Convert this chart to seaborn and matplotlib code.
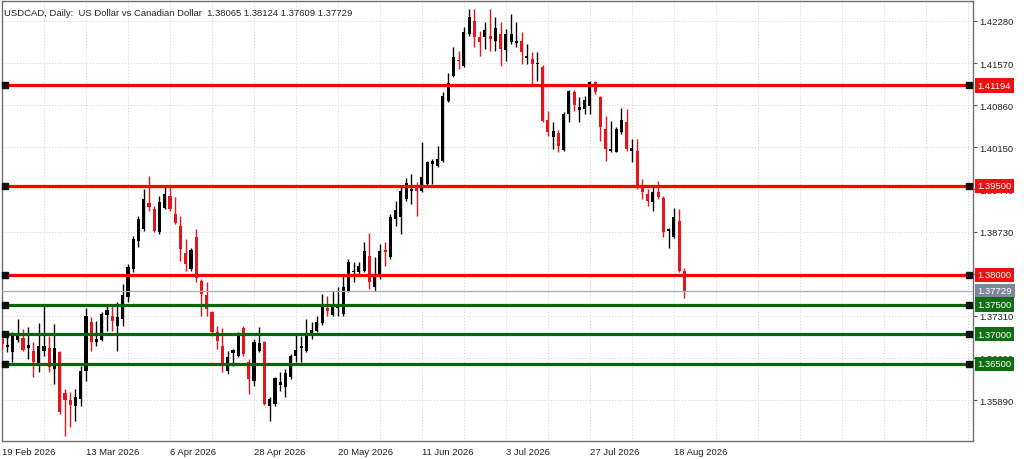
import numpy as np
import pandas as pd
import matplotlib
matplotlib.use('Agg')
import matplotlib.pyplot as plt
from matplotlib.ticker import MultipleLocator, FixedLocator
import seaborn as sns

# daily USDCAD candles
opens = [1.3692, 1.3679, 1.3670, 1.3690, 1.3694, 1.3677, 1.3672, 1.3646, 1.3672, 1.3677,
         1.3641, 1.3670, 1.3601, 1.3589, 1.3579, 1.3591, 1.3638, 1.3720, 1.3687, 1.3690,
         1.3732, 1.3731, 1.3714, 1.3725, 1.3763, 1.3810, 1.3857, 1.3877, 1.3921, 1.3911,
         1.3872, 1.3913, 1.3933, 1.3902, 1.3882, 1.3837, 1.3810, 1.3864, 1.3790, 1.3766,
         1.3737, 1.3704, 1.3680, 1.3638, 1.3668, 1.3663, 1.3710, 1.3653, 1.3621, 1.3672,
         1.3687, 1.3579, 1.3582, 1.3614, 1.3611, 1.3628, 1.3663, 1.3677, 1.3672, 1.3697,
         1.3705, 1.3719, 1.3744, 1.3732, 1.3744, 1.3734, 1.3773, 1.3805, 1.3805, 1.3806,
         1.3832, 1.3779, 1.3796, 1.3842, 1.3830, 1.3894, 1.3897, 1.3928, 1.3941, 1.3946,
         1.3941, 1.3953, 1.3987, 1.3983, 1.3992, 1.4093, 1.4135, 1.4162, 1.4152, 1.4206,
         1.4228, 1.4201, 1.4201, 1.4203, 1.4194, 1.4206, 1.4179, 1.4193, 1.4191, 1.4194,
         1.4166, 1.4164, 1.4156, 1.4150, 1.4061, 1.4032, 1.4039, 1.4010, 1.4071, 1.4108,
         1.4078, 1.4080, 1.4085, 1.4125, 1.4100, 1.4046, 1.4009, 1.4007, 1.4041, 1.4058,
         1.4009, 1.4009, 1.3948, 1.3936, 1.3923, 1.3940, 1.3930, 1.3874, 1.3864, 1.3891,
         1.38065]
highs = [1.3700, 1.3695, 1.3704, 1.3725, 1.3709, 1.3712, 1.3687, 1.3719, 1.3751, 1.3697,
         1.3717, 1.3672, 1.3607, 1.3602, 1.3607, 1.3646, 1.3744, 1.3729, 1.3722, 1.3737,
         1.3751, 1.3751, 1.3754, 1.3785, 1.3818, 1.3865, 1.3899, 1.3945, 1.3967, 1.3916,
         1.3933, 1.3948, 1.3950, 1.3931, 1.3899, 1.3860, 1.3845, 1.3877, 1.3793, 1.3788,
         1.3739, 1.3714, 1.3710, 1.3672, 1.3675, 1.3704, 1.3714, 1.3658, 1.3692, 1.3712,
         1.3688, 1.3594, 1.3628, 1.3636, 1.3641, 1.3666, 1.3700, 1.3697, 1.3725, 1.3720,
         1.3731, 1.3768, 1.3764, 1.3773, 1.3779, 1.3798, 1.3827, 1.3822, 1.3822, 1.3855,
         1.3870, 1.3830, 1.3852, 1.3855, 1.3902, 1.3924, 1.3948, 1.3963, 1.3970, 1.3956,
         1.4024, 1.3992, 1.3995, 1.4017, 1.4108, 1.4140, 1.4184, 1.4177, 1.4218, 1.4248,
         1.4248, 1.4211, 1.4226, 1.4248, 1.4235, 1.4226, 1.4214, 1.4240, 1.4226, 1.4209,
         1.4189, 1.4176, 1.4176, 1.4154, 1.4076, 1.4058, 1.4044, 1.4074, 1.4112, 1.4112,
         1.4100, 1.4101, 1.4127, 1.4127, 1.4101, 1.4068, 1.4059, 1.4049, 1.4081, 1.4080,
         1.4029, 1.4029, 1.3962, 1.3945, 1.3948, 1.3958, 1.3933, 1.3879, 1.3913, 1.3911,
         1.38124]
lows = [1.3675, 1.3670, 1.3653, 1.3687, 1.3672, 1.3658, 1.3628, 1.3636, 1.3663, 1.3636,
        1.3616, 1.3565, 1.3528, 1.3543, 1.3554, 1.3579, 1.3621, 1.3672, 1.3680, 1.3688,
        1.3705, 1.3705, 1.3672, 1.3714, 1.3754, 1.3805, 1.3847, 1.3874, 1.3908, 1.3872,
        1.3869, 1.3911, 1.3908, 1.3886, 1.3823, 1.3806, 1.3806, 1.3788, 1.3731, 1.3731,
        1.3697, 1.3675, 1.3636, 1.3633, 1.3646, 1.3661, 1.3663, 1.3599, 1.3612, 1.3670,
        1.3580, 1.3554, 1.3579, 1.3604, 1.3594, 1.3624, 1.3653, 1.3653, 1.3670, 1.3692,
        1.3704, 1.3715, 1.3731, 1.3731, 1.3731, 1.3731, 1.3771, 1.3788, 1.3798, 1.3805,
        1.3776, 1.3773, 1.3793, 1.3815, 1.3827, 1.3882, 1.3869, 1.3924, 1.3919, 1.3899,
        1.3940, 1.3950, 1.3953, 1.3982, 1.3990, 1.4091, 1.4134, 1.4147, 1.4150, 1.4203,
        1.4184, 1.4169, 1.4181, 1.4177, 1.4177, 1.4152, 1.4160, 1.4189, 1.4184, 1.4155,
        1.4155, 1.4122, 1.4127, 1.4058, 1.4034, 1.4012, 1.4007, 1.4009, 1.4058, 1.4076,
        1.4058, 1.4071, 1.4071, 1.4105, 1.4026, 1.3992, 1.4007, 1.4007, 1.4037, 1.4009,
        1.3990, 1.3945, 1.3928, 1.3916, 1.3908, 1.3928, 1.3864, 1.3845, 1.3862, 1.3805,
        1.37609]
closes = [1.3683, 1.3681, 1.3697, 1.3700, 1.3673, 1.3682, 1.3653, 1.3680, 1.3680, 1.3645,
          1.3677, 1.3569, 1.3589, 1.3580, 1.3594, 1.3638, 1.3731, 1.3687, 1.3692, 1.3734,
          1.3741, 1.3722, 1.3729, 1.3766, 1.3813, 1.3860, 1.3894, 1.3928, 1.3914, 1.3874,
          1.3923, 1.3936, 1.3911, 1.3887, 1.3844, 1.3818, 1.3842, 1.3795, 1.3768, 1.3742,
          1.3704, 1.3688, 1.3646, 1.3661, 1.3673, 1.3699, 1.3666, 1.3624, 1.3687, 1.3685,
          1.3582, 1.3591, 1.3626, 1.3619, 1.3634, 1.3663, 1.3673, 1.3680, 1.3697, 1.3707,
          1.3720, 1.3749, 1.3739, 1.3746, 1.3746, 1.3779, 1.3822, 1.3806, 1.3815, 1.3840,
          1.3788, 1.3796, 1.3840, 1.3838, 1.3897, 1.3909, 1.3941, 1.3955, 1.3945, 1.3941,
          1.3965, 1.3990, 1.3992, 1.3995, 1.4101, 1.4123, 1.4167, 1.4160, 1.4209, 1.4235,
          1.4201, 1.4193, 1.4213, 1.4198, 1.4216, 1.4181, 1.4206, 1.4206, 1.4194, 1.4176,
          1.4169, 1.4155, 1.4157, 1.4059, 1.4041, 1.4042, 1.4017, 1.4071, 1.4110, 1.4086,
          1.4083, 1.4095, 1.4125, 1.4108, 1.4049, 1.4012, 1.4012, 1.4046, 1.4061, 1.4012,
          1.4014, 1.3948, 1.3940, 1.3924, 1.3940, 1.3931, 1.3872, 1.3877, 1.3897, 1.3806,
          1.37729]

resistance_levels = [1.41194, 1.39500, 1.38000]
support_levels = [1.37500, 1.37000, 1.36500]
last_price = 1.37729
price_ticks = [1.42280, 1.41570, 1.40860, 1.40150, 1.39440, 1.38730,
               1.38020, 1.37310, 1.36600, 1.35890]
title = "USDCAD, Daily:  US Dollar vs Canadian Dollar  1.38065 1.38124 1.37609 1.37729"

dates = pd.bdate_range('2026-02-19', periods=len(opens))
df = pd.DataFrame({'date': dates, 'open': opens, 'high': highs,
                   'low': lows, 'close': closes})
df['i'] = np.arange(len(df))
df['up'] = df['close'] >= df['open']

sns.set_style('white')
plt.rcParams['font.family'] = ['Liberation Sans', 'DejaVu Sans']

RED = '#ff0000'
GREEN = '#0a640a'
FRAME = '#707070'

fig = plt.figure(figsize=(10.24, 4.6), dpi=100)
ax = fig.add_axes([2 / 1024, 18 / 460, 971 / 1024, 440 / 460])

# candles
cols = np.where(df['up'], '#000000', '#e8141c')
ax.vlines(df['i'], df['low'], df['high'], colors=cols, linewidth=1, zorder=3)
body_lo = np.minimum(df['open'], df['close'])
body_h = np.maximum(np.abs(df['close'] - df['open']), 0.00005)
ax.bar(df['i'], body_h, bottom=body_lo, width=0.6, color=cols,
       linewidth=0, zorder=4)

# level lines
ax.axhline(last_price, color='#a9abb5', lw=0.9, zorder=5)
for lv in resistance_levels:
    ax.axhline(lv, color=RED, lw=2.3, zorder=6)
for lv in support_levels:
    ax.axhline(lv, color=GREEN, lw=2.3, zorder=6)
ytr = ax.get_yaxis_transform()
for lv in resistance_levels + support_levels:
    ax.plot([0.003, 0.9959], [lv, lv], 's', color='#111111', ms=4.6,
            transform=ytr, zorder=7, clip_on=False)

# price labels on the right scale (they sit over the scale like in MT4)
def price_box(val, fc):
    ax.text(1.0045, val, f"{val:.5f}", transform=ytr, ha='left', va='center',
            fontsize=6.8, color='white', zorder=10, clip_on=False,
            bbox=dict(boxstyle='square,pad=0.28', fc=fc, ec='none'))

for lv in resistance_levels:
    price_box(lv, '#f01010')
price_box(last_price, '#7d8799')
for lv in support_levels:
    price_box(lv, '#0f6e0f')

ax.set_xlim(0.05, 185.0)
ax.set_ylim(1.35199, 1.42617)

ax.yaxis.tick_right()
ax.yaxis.set_major_locator(FixedLocator(price_ticks))
ax.set_yticklabels([f"{t:.5f}" for t in price_ticks])
label_idx = list(range(0, len(df), 16))
ax.set_xticks(label_idx)
ax.set_xticklabels([f"{d.day} {d.strftime('%b %Y')}" for d in df['date'].iloc[label_idx]],
                   ha='left')
ax.xaxis.set_minor_locator(MultipleLocator(8))
ax.tick_params(axis='both', which='major', labelsize=6.8, colors='#222222',
               length=3, width=0.8, pad=1.5)
ax.tick_params(axis='x', which='minor', length=0)
ax.tick_params(axis='y', colors='#555555', labelcolor='#222222')

ax.grid(True, which='both', axis='x', color='#d2d2d2', lw=0.7, ls=(0, (1, 2)))
ax.grid(True, which='major', axis='y', color='#d2d2d2', lw=0.7, ls=(0, (1, 2)))
ax.set_axisbelow(True)

for s in ax.spines.values():
    s.set_color(FRAME)
    s.set_linewidth(1)

ax.text(0.002, 0.985, title, transform=ax.transAxes, ha='left', va='top',
        fontsize=6.8, color='#222222', zorder=10)

fig.savefig('out.png', dpi=100)
